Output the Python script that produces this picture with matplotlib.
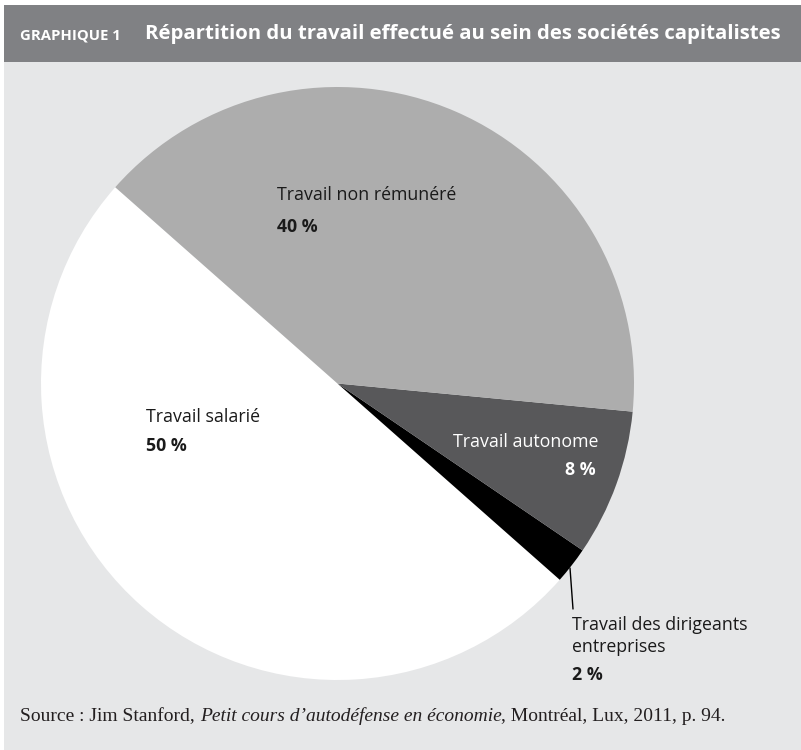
import matplotlib
matplotlib.use("Agg")
import matplotlib.pyplot as plt
from matplotlib.patches import Rectangle

# Données (Stanford, 2011)
labels = ["Travail salarié", "Travail des dirigeants\nentreprises", "Travail autonome", "Travail non rémunéré"]
shares = [50, 2, 8, 40]
pct_labels = ["50 %", "2 %", "8 %", "40 %"]
colors = ["#ffffff", "#000000", "#58585a", "#adadad"]

W, H = 801, 750
fig = plt.figure(figsize=(W / 100, H / 100), dpi=100)
fig.patch.set_facecolor("white")
renderer = fig.canvas.get_renderer()

# fond gris clair + bandeau du titre
fig.patches.append(Rectangle((4 / W, 0), 1, 1 - 5 / H, transform=fig.transFigure,
                             facecolor="#e6e7e8", edgecolor="none", zorder=0))
fig.patches.append(Rectangle((4 / W, 1 - 62 / H), 1, 57 / H, transform=fig.transFigure,
                             facecolor="#808184", edgecolor="none", zorder=1))


def fitted_text(x, y, s, width, **kw):
    # ajuste la taille pour occuper la largeur voulue (px)
    t = fig.text(x / W, 1 - y / H, s, va="baseline", **kw)
    w = t.get_window_extent(renderer).width
    t.set_fontsize(t.get_fontsize() * width / w)
    return t

fitted_text(20, 39, "GRAPHIQUE 1", 100, fontsize=10, fontweight="bold",
            family="Open Sans", color="white")
fitted_text(145, 39, "Répartition du travail effectué au sein des sociétés capitalistes", 640,
            fontsize=14, fontweight="bold", family="Open Sans", color="white")

# camembert : centre (337.5, 383.5) px, rayon 296.5 px
cx, cy, R = 337.5, 383.5, 296.5
ax = fig.add_axes([(cx - 300) / W, (H - cy - 300) / H, 600 / W, 600 / H], zorder=3)
ax.patch.set_visible(False)
wedges, _ = ax.pie(shares, colors=colors, startangle=138.55, counterclock=True,
                   radius=R, center=(0, 0), frame=True,
                   wedgeprops=dict(linewidth=0))
ax.set_xlim(-300, 300)
ax.set_ylim(-300, 300)
ax.set_aspect("auto")
ax.axis("off")

lab_font = dict(family="Open Sans", fontsize=12.8)
dark = "#1a1a1a"

def label(x, y, name, pct, color=dark, ha="left", x2=None, gap=29):
    ax.text(x, y, name, color=color, ha=ha, va="baseline", **lab_font)
    ax.text(x if x2 is None else x2, y - gap, pct, color=color, ha=ha, va="baseline",
            fontweight="bold", **lab_font)

label(277 - cx, cy - 200, labels[3], pct_labels[3], gap=32)
label(146 - cx, cy - 422, labels[0], pct_labels[0], gap=29)
label(598 - cx, cy - 447, labels[2], pct_labels[2], color="white", ha="right",
      x2=596 - cx, gap=28)

# étiquette externe des dirigeants avec trait
ax.annotate("", xy=(570 - cx, cy - 568), xytext=(573 - cx, cy - 609),
            arrowprops=dict(arrowstyle="-", color="black", lw=1, shrinkA=0, shrinkB=0))
for i, line in enumerate(labels[1].split("\n")):
    ax.text(572 - cx, cy - 630 - 22 * i, line, color=dark, ha="left", va="baseline", **lab_font)
ax.text(572 - cx, cy - 680, pct_labels[1], color=dark, ha="left", va="baseline",
        fontweight="bold", **lab_font)

# source, en plusieurs morceaux (partie en italique)
src_parts = [("Source : Jim Stanford, ", "normal"),
             ("Petit cours d\u2019autodéfense en économie", "italic"),
             (", Montréal, Lux, 2011, p. 94.", "normal")]
x = 20
for txt, style in src_parts:
    t = fig.text(x / W, 1 - 721 / H, txt, fontsize=14, family="Liberation Serif",
                 style=style, color="#231f20", va="baseline")
    x += t.get_window_extent(renderer).width

fig.savefig("out.png", dpi=100, facecolor=fig.get_facecolor())
